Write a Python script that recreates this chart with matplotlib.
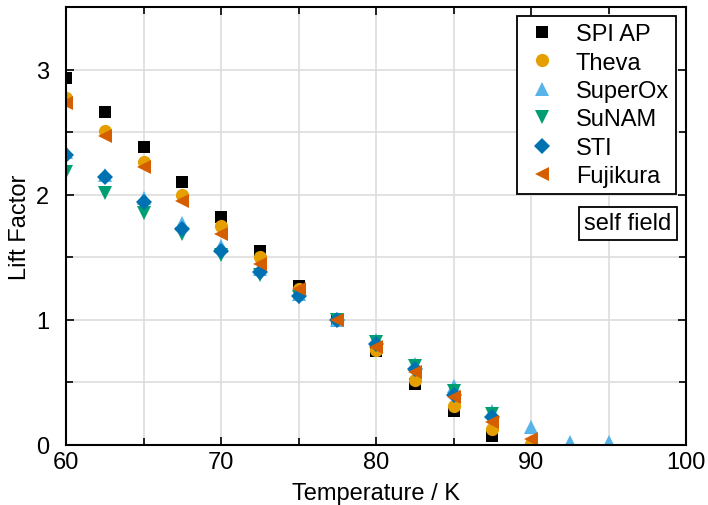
import matplotlib
matplotlib.use("Agg")
import matplotlib.pyplot as plt
from matplotlib.ticker import MultipleLocator

plt.rcParams['font.family'] = ['Liberation Sans', 'DejaVu Sans']

temps = [60, 62.5, 65, 67.5, 70, 72.5, 75, 77.5, 80, 82.5, 85, 87.5, 90, 92.5, 95]

spi_ap = [2.93, 2.66, 2.38, 2.10, 1.82, 1.55, 1.27, 1.00, 0.75, 0.49, 0.27, 0.07]
theva = [2.77, 2.51, 2.26, 2.00, 1.75, 1.50, 1.25, 1.00, 0.76, 0.52, 0.31, 0.13, 0.01]
superox = [2.34, 2.16, 1.97, 1.77, 1.59, 1.41, 1.21, 1.00, 0.84, 0.65, 0.47, 0.27, 0.14, 0.02, 0.02]
sunam = [2.18, 2.01, 1.85, 1.69, 1.52, 1.36, 1.18, 1.00, 0.82, 0.63, 0.43, 0.25]
sti = [2.32, 2.14, 1.94, 1.73, 1.55, 1.38, 1.19, 1.00, 0.81, 0.61, 0.40, 0.22]
fujikura = [2.73, 2.47, 2.22, 1.95, 1.69, 1.45, 1.25, 1.00, 0.78, 0.58, 0.38, 0.18, 0.05]

series = [
    ("SPI AP", spi_ap, "s", "#000000", 8.5),
    ("Theva", theva, "o", "#E69F00", 9.5),
    ("SuperOx", superox, "^", "#56B4E9", 10.5),
    ("SuNAM", sunam, "v", "#009E73", 10.5),
    ("STI", sti, "D", "#0072B2", 8.5),
    ("Fujikura", fujikura, "<", "#D55E00", 10.5),
]

fig = plt.figure(figsize=(7.08, 5.06), dpi=100)
ax = fig.add_axes([66 / 708, 60 / 506, 620 / 708, 438 / 506])

for name, vals, mk, col, ms in series:
    ax.plot(temps[:len(vals)], vals, linestyle="none", marker=mk, color=col,
            markersize=ms, markeredgewidth=0, label=name)

ax.set_xlim(60, 100)
ax.set_ylim(0, 3.5)
ax.xaxis.set_major_locator(MultipleLocator(10))
ax.xaxis.set_minor_locator(MultipleLocator(5))
ax.yaxis.set_major_locator(MultipleLocator(1))
ax.yaxis.set_minor_locator(MultipleLocator(0.5))
ax.grid(which="both", color="#dddddd", linewidth=1.2)
ax.set_axisbelow(True)
ax.tick_params(which="both", direction="in", top=True, right=True, labelsize=17, width=1.2)
ax.tick_params(which="major", length=6)
ax.tick_params(which="minor", length=5)
ax.tick_params(axis="y", pad=12)
ax.tick_params(axis="x", pad=4)
for sp in ax.spines.values():
    sp.set_linewidth(1.5)

ax.set_xlabel("Temperature / K", fontsize=17, labelpad=7)
ax.set_ylabel("Lift Factor", fontsize=17, labelpad=4)

leg = ax.legend(loc="upper right", bbox_to_anchor=(0.984, 0.979), borderaxespad=0,
                fontsize=17, fancybox=False, edgecolor="black", framealpha=1,
                handletextpad=0.7, borderpad=0.3, labelspacing=0.27, handlelength=1.5)
leg.get_frame().set_linewidth(1.3)

ax.text(0.977, 0.506, "self field", transform=ax.transAxes, ha="right", va="center",
        fontsize=17, bbox=dict(boxstyle="square,pad=0.22", facecolor="white",
                               edgecolor="black", linewidth=1.3))

fig.savefig("out.png", dpi=100)
